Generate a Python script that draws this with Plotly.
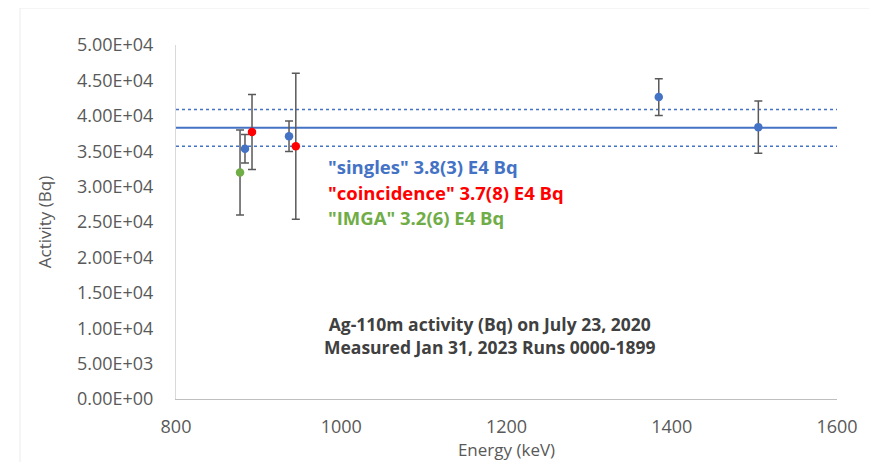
import plotly.graph_objects as go

# Data
singles_e = [883.5, 936.8, 1384.3, 1504.8]
singles_a = [35350, 37100, 42650, 38400]
singles_err = [2000, 2150, 2600, 3700]

coinc_e = [892.0, 945.0]
coinc_a = [37700, 35700]
coinc_err = [5300, 10300]

imga_e = [877.5]
imga_a = [32000]
imga_err = [6000]

mean_val = 38300
mean_hi = 40900
mean_lo = 35700
x_range = [800, 1600]

y_ticks = [0, 5000, 10000, 15000, 20000, 25000, 30000, 35000, 40000, 45000, 50000]
y_tick_text = ["0.00E+00", "5.00E+03", "1.00E+04", "1.50E+04", "2.00E+04", "2.50E+04",
               "3.00E+04", "3.50E+04", "4.00E+04", "4.50E+04", "5.00E+04"]
x_ticks = [800, 1000, 1200, 1400, 1600]

BLUE = "#4472C4"
RED = "#FF0000"
GREEN = "#70AD47"
ERR = "#595959"
FONT = "Open Sans"

fig = go.Figure()

fig.add_trace(go.Scatter(x=x_range, y=[mean_val, mean_val], mode="lines",
                         line=dict(color=BLUE, width=2), hoverinfo="skip"))
fig.add_trace(go.Scatter(x=x_range, y=[mean_hi, mean_hi], mode="lines",
                         line=dict(color=BLUE, width=1.5, dash="dot"), hoverinfo="skip"))
fig.add_trace(go.Scatter(x=x_range, y=[mean_lo, mean_lo], mode="lines",
                         line=dict(color=BLUE, width=1.5, dash="dot"), hoverinfo="skip"))

def pts(x, y, err, color):
    return go.Scatter(x=x, y=y, mode="markers",
                      marker=dict(color=color, size=8.5),
                      error_y=dict(type="data", array=err, visible=True,
                                   color=ERR, thickness=1.5, width=4))

fig.add_trace(pts(imga_e, imga_a, imga_err, GREEN))
fig.add_trace(pts(singles_e, singles_a, singles_err, BLUE))
fig.add_trace(pts(coinc_e, coinc_a, coinc_err, RED))

labels = [('"singles" 3.8(3) E4 Bq', BLUE, 32770),
          ('"coincidence" 3.7(8) E4 Bq', RED, 29100),
          ('"IMGA" 3.2(6) E4 Bq', GREEN, 25700)]
for txt, col, yv in labels:
    fig.add_annotation(x=982, y=yv, xref="x", yref="y", text="<b>%s</b>" % txt,
                       showarrow=False, xanchor="left", yanchor="middle",
                       font=dict(family=FONT, size=18.5, color=col))

fig.add_annotation(x=1180, y=9040, xref="x", yref="y",
                   text="<b>Ag-110m activity (Bq) on July 23, 2020</b><br><b>Measured Jan 31, 2023 Runs 0000-1899</b>",
                   showarrow=False, xanchor="center", yanchor="middle", align="center",
                   font=dict(family=FONT, size=17.5, color="#404040"))

# faint outer frame
fig.add_shape(type="rect", xref="paper", yref="paper", x0=-0.236, x1=1.2, y0=-0.3, y1=1.1045,
              line=dict(color="#EBEBEB", width=1), layer="below")

fig.update_layout(
    width=877, height=462,
    margin=dict(l=168, r=48, t=37, b=71),
    paper_bgcolor="white", plot_bgcolor="white",
    showlegend=False,
    font=dict(family=FONT, color="#595959"),
    xaxis=dict(range=x_range, tickvals=x_ticks, showgrid=False, zeroline=False,
               showline=True, linecolor="#BFBFBF", linewidth=1, automargin=False,
               tickfont=dict(size=18, color="#595959"), ticklabelstandoff=11,
               title=dict(text="Energy (keV)", font=dict(size=17, color="#595959"), standoff=7)),
    yaxis=dict(range=[0, 50000], tickvals=y_ticks, ticktext=y_tick_text, automargin=False,
               showgrid=False, zeroline=False, showline=True, linecolor="#D9D9D9", linewidth=1,
               tickfont=dict(size=18, color="#595959"), ticklabelstandoff=18,
               title=dict(text="Activity (Bq)", font=dict(size=17, color="#595959"), standoff=20)),
)

fig.write_html("out.html")
